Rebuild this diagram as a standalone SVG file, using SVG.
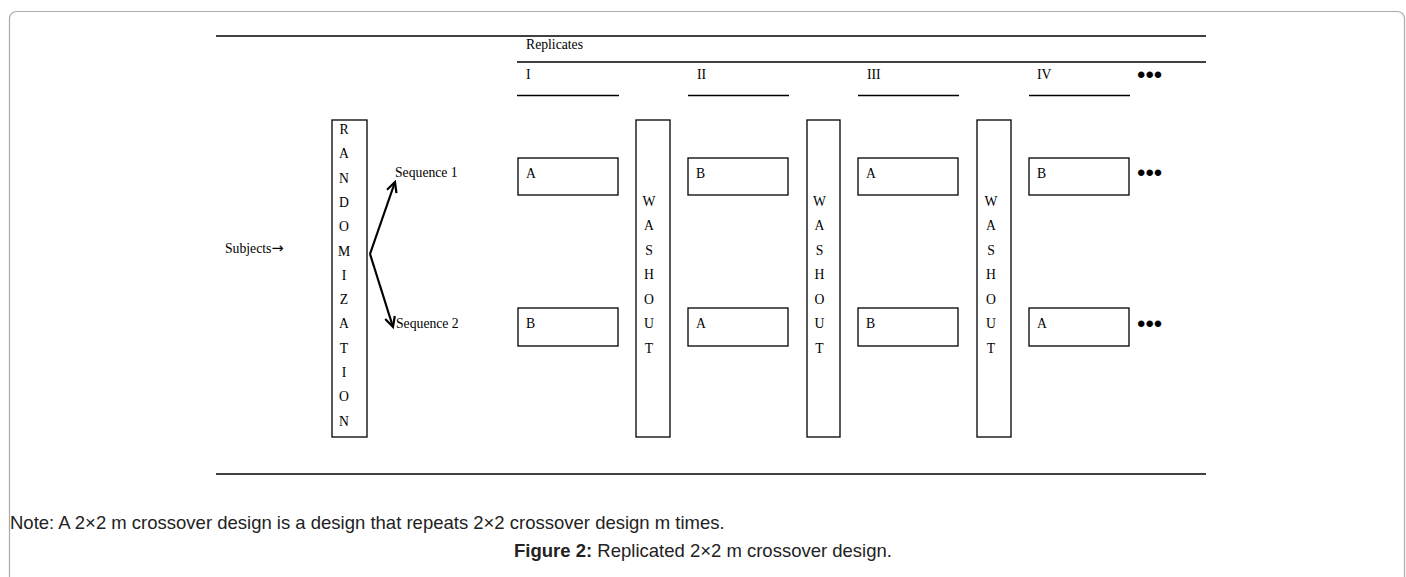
<svg xmlns="http://www.w3.org/2000/svg" width="1406" height="577" viewBox="0 0 1406 577">
<style>
.t{font-family:"Liberation Serif","Times New Roman",serif;font-size:13.7px;fill:#000}
.c{text-anchor:middle}
.box{fill:#fff;stroke:#000;stroke-width:1.3}
.rule{stroke:#000;stroke-width:1.3}
.dots{font-family:"Liberation Sans",Arial,sans-serif;font-size:24px;fill:#000}
.note{font-family:"Liberation Sans",Arial,sans-serif;font-size:18.5px;fill:#222}
.arrow{fill:none;stroke:#000;stroke-width:2.2}
</style>
<defs>
<marker id="head" markerUnits="userSpaceOnUse" markerWidth="14" markerHeight="14" refX="11" refY="6" orient="auto" viewBox="0 0 14 12">
<path d="M1,1 L11,6 L1,11" fill="none" stroke="#000" stroke-width="2.2"/>
</marker>
</defs>
<rect width="1406" height="577" fill="#fff"/>
<rect x="9.5" y="11.5" width="1395" height="620" rx="7" fill="none" stroke="#aaa" stroke-width="1.2"/>

<g id="rules">
<line class="rule" x1="216" y1="36" x2="1206" y2="36"/>
<line class="rule" x1="517" y1="62" x2="1206" y2="62"/>
<line class="rule" x1="517" y1="95.5" x2="619" y2="95.5"/>
<line class="rule" x1="688" y1="95.5" x2="789" y2="95.5"/>
<line class="rule" x1="858" y1="95.5" x2="959" y2="95.5"/>
<line class="rule" x1="1029" y1="95.5" x2="1130" y2="95.5"/>
<line class="rule" x1="216" y1="474" x2="1206" y2="474"/>
</g>

<g id="header">
<text class="t" x="526" y="49">Replicates</text>
<text class="t" x="526" y="78.5">I</text>
<text class="t" x="697" y="78.5">II</text>
<text class="t" x="867" y="78.5">III</text>
<text class="t" x="1037" y="78.5">IV</text>
<text class="dots" x="1137" y="82.5">•••</text>
</g>

<g id="subjects"><text class="t" x="225" y="252.5">Subjects<tspan font-family="'DejaVu Sans',sans-serif" font-size="14.5px">→</tspan></text></g>

<g id="randomization">
<rect class="box" x="332" y="120" width="35" height="317"/>
<g class="t c">
<text x="344" y="134">R</text><text x="344" y="158.3">A</text><text x="344" y="182.6">N</text><text x="344" y="206.9">D</text><text x="344" y="231.2">O</text><text x="344" y="255.5">M</text><text x="344" y="279.8">I</text><text x="344" y="304.1">Z</text><text x="344" y="328.4">A</text><text x="344" y="352.7">T</text><text x="344" y="377">I</text><text x="344" y="401.3">O</text><text x="344" y="425.6">N</text>
</g>
</g>

<g id="connectors">
<path class="arrow" d="M370,254 L395,182" marker-end="url(#head)"/>
<path class="arrow" d="M370,254 L393,327" marker-end="url(#head)"/>
</g>

<g id="seq1"><text class="t" x="395" y="176.5">Sequence 1</text></g>
<g id="seq2"><text class="t" x="396" y="327.5">Sequence 2</text></g>

<g id="r1-top"><rect class="box" x="518" y="158" width="100" height="37"/><text class="t" x="526" y="177.5">A</text></g>
<g id="r1-bot"><rect class="box" x="518" y="308" width="100" height="38"/><text class="t" x="526" y="328">B</text></g>
<g id="r2-top"><rect class="box" x="688" y="158" width="100" height="37"/><text class="t" x="696" y="177.5">B</text></g>
<g id="r2-bot"><rect class="box" x="688" y="308" width="100" height="38"/><text class="t" x="696" y="328">A</text></g>
<g id="r3-top"><rect class="box" x="858" y="158" width="100" height="37"/><text class="t" x="866" y="177.5">A</text></g>
<g id="r3-bot"><rect class="box" x="858" y="308" width="100" height="38"/><text class="t" x="866" y="328">B</text></g>
<g id="r4-top"><rect class="box" x="1029" y="158" width="100" height="37"/><text class="t" x="1037" y="177.5">B</text><text class="dots" x="1137" y="180.5">•••</text></g>
<g id="r4-bot"><rect class="box" x="1029" y="308" width="100" height="38"/><text class="t" x="1037" y="328">A</text><text class="dots" x="1137" y="331.5">•••</text></g>

<g id="washout1">
<rect class="box" x="636" y="120" width="34" height="317"/>
<g class="t c"><text x="649" y="205.5">W</text><text x="649" y="230">A</text><text x="649" y="254.5">S</text><text x="649" y="279">H</text><text x="649" y="303.5">O</text><text x="649" y="328">U</text><text x="649" y="352.5">T</text></g>
</g>
<g id="washout2">
<rect class="box" x="807" y="120" width="33" height="317"/>
<g class="t c"><text x="819.5" y="205.5">W</text><text x="819.5" y="230">A</text><text x="819.5" y="254.5">S</text><text x="819.5" y="279">H</text><text x="819.5" y="303.5">O</text><text x="819.5" y="328">U</text><text x="819.5" y="352.5">T</text></g>
</g>
<g id="washout3">
<rect class="box" x="977" y="120" width="34" height="317"/>
<g class="t c"><text x="991" y="205.5">W</text><text x="991" y="230">A</text><text x="991" y="254.5">S</text><text x="991" y="279">H</text><text x="991" y="303.5">O</text><text x="991" y="328">U</text><text x="991" y="352.5">T</text></g>
</g>

<g id="note"><text class="note" x="10" y="529">Note: A 2×2 m crossover design is a design that repeats 2×2 crossover design m times.</text></g>
<g id="caption"><text class="note" x="703" y="557" text-anchor="middle"><tspan font-weight="bold">Figure 2:</tspan> Replicated 2×2 m crossover design.</text></g>
</svg>
